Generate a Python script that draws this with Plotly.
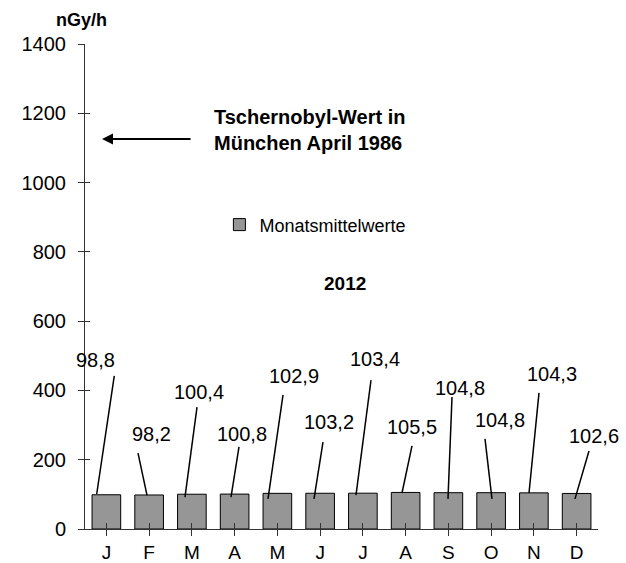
import plotly.graph_objects as go

months = ["J", "F", "M", "A", "M", "J", "J", "A", "S", "O", "N", "D"]
values = [98.8, 98.2, 100.4, 100.8, 102.9, 103.2, 103.4, 105.5, 104.8, 104.8, 104.3, 102.6]
y_ticks = [0, 200, 400, 600, 800, 1000, 1200, 1400]
series_name = "Monatsmittelwerte"
unit_label = "nGy/h"
year_label = "2012"
note_text = "Tschernobyl-Wert in<br>München April 1986"
note_value = 1126

# label placement (category offsets / data y) for the leader-line labels
label_dx = [-0.266, 0.044, 0.167, 0.173, 0.389, 0.208, 0.284, 0.149, 0.272, 0.208, 0.424, 0.406]
label_y = [488, 274, 395, 274, 442, 309, 491, 294, 407, 315, 447, 268]
line_top_dx = [0.185, -0.26, 0.12, 0.102, 0.132, 0.067, 0.19, 0.149, 0.085, -0.143, 0.12, 0.289]
line_top_y = [442, 219, 352, 237, 387, 251, 430, 240, 381, 260, 393, 225]
line_bot_dx = [-0.226, -0.05, -0.161, -0.085, -0.219, -0.143, -0.161, -0.085, -0.009, 0.02, -0.114, -0.038]
line_bot_y = [101, 98, 92, 92, 87, 87, 98, 104, 87, 87, 104, 87]

FONT = "Liberation Sans, Arial, sans-serif"
x_idx = list(range(len(months)))

fig = go.Figure()
fig.add_trace(go.Bar(
    x=x_idx, y=values, name=series_name,
    marker=dict(color="#969696", line=dict(color="#000000", width=1)),
    showlegend=True,
))
# dummy trace for the crossing tick overlay axes
fig.add_trace(go.Scatter(x=[0], y=[0], xaxis="x2", yaxis="y2", mode="markers",
                         marker=dict(opacity=0), showlegend=False, hoverinfo="skip"))

shapes = []
annotations = []
for i, v in enumerate(values):
    txt = f"{v:.1f}".replace(".", ",")
    annotations.append(dict(x=i + label_dx[i], y=label_y[i], xref="x", yref="y",
                            text=txt, showarrow=False, xanchor="center", yanchor="middle",
                            font=dict(family=FONT, size=20, color="#000")))
    shapes.append(dict(type="line", xref="x", yref="y",
                       x0=i + line_top_dx[i], y0=line_top_y[i],
                       x1=i + line_bot_dx[i], y1=line_bot_y[i],
                       line=dict(color="#000", width=1.5)))

annotations.append(dict(x=-0.102, y=note_value, xref="x", yref="y", text="",
                        showarrow=True, ax=90, ay=0, axref="pixel", ayref="pixel",
                        arrowhead=2, arrowsize=1.1, arrowwidth=2, arrowcolor="#000"))
annotations.append(dict(x=0.2476, y=0.823, xref="paper", yref="paper", text=f"<b>{note_text}</b>",
                        showarrow=False, xanchor="left", yanchor="middle", align="left",
                        font=dict(family=FONT, size=20, color="#000")))
annotations.append(dict(x=0.507, y=0.507, xref="paper", yref="paper", text=f"<b>{year_label}</b>",
                        showarrow=False, xanchor="center", yanchor="middle",
                        font=dict(family=FONT, size=19, color="#000")))
annotations.append(dict(x=-0.006, y=1.049, xref="paper", yref="paper", text=f"<b>{unit_label}</b>",
                        showarrow=False, xanchor="center", yanchor="middle",
                        font=dict(family=FONT, size=18, color="#000")))

fig.update_layout(
    width=626, height=563,
    margin=dict(l=85, r=28, t=44, b=34, autoexpand=False),
    paper_bgcolor="white", plot_bgcolor="white",
    font=dict(family=FONT, size=20, color="#000"),
    bargap=0.33,
    xaxis=dict(tickmode="array", tickvals=x_idx, ticktext=months, range=[-0.5, 11.5],
               showline=True, linecolor="#333", linewidth=1, ticks="outside", ticklen=6,
               tickcolor="#333", tickson="boundaries", showgrid=False, zeroline=False,
               ticklabelstandoff=0, tickfont=dict(size=19), automargin=False),
    xaxis2=dict(tickmode="array", tickvals=x_idx, ticktext=months, range=[-0.5, 11.5],
                overlaying="x", side="bottom", anchor="y", showline=False,
                ticks="inside", ticklen=6, tickcolor="#333", tickson="boundaries",
                showticklabels=False, showgrid=False, zeroline=False, automargin=False),
    yaxis=dict(range=[0, 1400], tickvals=y_ticks, showline=True, linecolor="#333", linewidth=1,
               ticks="outside", ticklen=6, tickcolor="#333", showgrid=False, zeroline=False,
               ticklabelstandoff=8, tickfont=dict(size=20), automargin=False),
    yaxis2=dict(range=[0, 1400], tickvals=y_ticks, overlaying="y", side="left", anchor="x",
                showline=False, ticks="inside", ticklen=5, tickcolor="#333",
                showticklabels=False, showgrid=False, zeroline=False, automargin=False),
    legend=dict(x=0.262, y=0.627, xanchor="left", yanchor="middle", bgcolor="rgba(0,0,0,0)",
                font=dict(family=FONT, size=18), itemwidth=30),
    shapes=shapes,
    annotations=annotations,
)

fig.write_html("out.html", config={"displayModeBar": False},
               post_script="document.body.style.margin='0';")
